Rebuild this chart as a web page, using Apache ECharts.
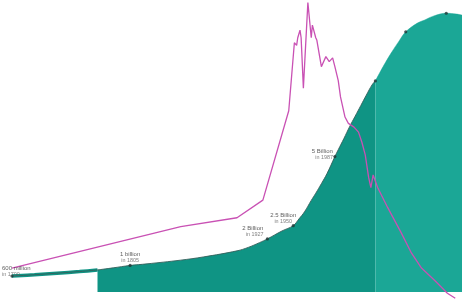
<!DOCTYPE html>
<html>
<head>
<meta charset="utf-8">
<script src="https://cdn.jsdelivr.net/npm/echarts@6/dist/echarts.min.js"></script>
<style>html,body{margin:0;padding:0;background:#fff}#c{width:462px;height:300px}</style>
</head>
<body>
<div id="c"></div>
<script>
// World population (billions), historical
const histYears = [1700, 1720, 1740, 1760, 1776, 1790, 1805, 1820, 1850, 1870, 1900, 1910, 1920, 1927, 1940, 1950, 1955, 1960, 1966, 1970, 1975, 1980, 1987, 1990, 1995, 2000, 2005, 2010, 2015, 2020, 2023];
const histPop   = [0.60, 0.65, 0.71, 0.77, 0.83, 0.91, 1.00, 1.06, 1.20, 1.32, 1.55, 1.68, 1.86, 2.00, 2.30, 2.50, 2.75, 3.02, 3.45, 3.72, 4.08, 4.46, 5.10, 5.36, 5.78, 6.22, 6.62, 7.02, 7.42, 7.80, 7.95];
// Projection (billions)
const projYears = [2023, 2030, 2037, 2044, 2050, 2060, 2067, 2075, 2086, 2095, 2100];
const projPop   = [7.95, 8.50, 9.00, 9.45, 9.80, 10.12, 10.25, 10.40, 10.50, 10.47, 10.43];
// Annual growth rate (%)
const growthYears = [1700, 1850, 1900, 1923, 1946, 1951, 1953, 1954, 1956, 1957, 1959, 1963, 1966, 1967, 1970, 1971, 1975, 1979, 1982, 1985, 1987, 1990, 1992, 1996, 1999, 2004, 2008, 2011, 2014, 2017, 2019, 2021, 2025, 2034, 2046, 2055, 2064, 2076, 2087, 2094];
const growthRate  = [0.19, 0.52, 0.59, 0.73, 1.44, 1.98, 1.96, 2.02, 2.08, 2.02, 1.62, 2.30, 2.02, 2.12, 2.02, 2.00, 1.79, 1.87, 1.83, 1.86, 1.79, 1.68, 1.55, 1.39, 1.34, 1.31, 1.27, 1.19, 1.09, 0.91, 0.83, 0.93, 0.83, 0.67, 0.47, 0.31, 0.19, 0.09, -0.01, -0.05];
// Milestones
const mileYears  = [1700, 1805, 1927, 1950, 1987, 2023, 2050, 2086];
const milePop    = [0.60, 1.00, 2.00, 2.50, 5.10, 7.95, 9.80, 10.50];
const mileTitle  = ['600 million', '1 billion', '2 Billion', '2.5 Billion', '5 Billion', '', '', ''];
const mileSub    = ['in 1700', 'in 1805', 'in 1927', 'in 1950', 'in 1987', '', '', ''];
const growthLabelYear = 2023;
const growthLabelValue = 0.88;
const growthLabelTitle = '0.9%';
const growthLabelSub = 'in 2023';

const zip = (xs, ys) => xs.map((x, i) => [x, ys[i]]);
const cut = 1776;
const bandData = zip(histYears, histPop).filter(d => d[0] <= cut);
const histArea = zip(histYears, histPop).filter(d => d[0] >= cut);

const DARK = '#0f9484';
const LIGHT = '#1ba796';
const PINK = '#c951b4';
const FONT = 'Liberation Sans, Arial, sans-serif';

// label placement styles per milestone
const labelStyles = [
  {align: 'left',   verticalAlign: 'bottom', offset: [-10, 1]},
  {align: 'center', verticalAlign: 'bottom', offset: [0, -2]},
  {align: 'right',  verticalAlign: 'bottom', offset: [-4, -1]},
  {align: 'center', verticalAlign: 'bottom', offset: [-10, -1]},
  {align: 'right',  verticalAlign: 'middle', offset: [-2, -2]},
  null, null, null
];

const rich = {
  a: {fontSize: 6, color: '#333', fontFamily: FONT, lineHeight: 6.3},
  b: {fontSize: 5.4, color: '#606060', fontFamily: FONT, lineHeight: 6}
};

const mileData = mileYears.map((y, i) => {
  const st = labelStyles[i];
  const item = {value: [y, milePop[i]]};
  if (st && mileTitle[i]) {
    item.label = Object.assign({show: true, position: 'inside', rich: rich,
      formatter: '{a|' + mileTitle[i] + '}\n{b|' + mileSub[i] + '}'}, st);
  } else {
    item.label = {show: false};
  }
  return item;
});

const chart = echarts.init(document.getElementById('c'), null, {renderer: 'canvas'});
chart.setOption({
  animation: false,
  backgroundColor: '#fff',
  grid: {left: 12, right: 0, top: 0, bottom: 8, containLabel: false},
  xAxis: {type: 'value', min: 1700, max: 2100, interval: 50, show: false},
  yAxis: [
    {type: 'value', min: 0, max: 11, show: false},
    {type: 'value', min: 0, max: 2.32, show: false}
  ],
  series: [
    {
      type: 'line', data: bandData, yAxisIndex: 0, symbol: 'none', smooth: 0.4,
      lineStyle: {color: DARK, width: 3.5}, z: 2
    },
    {
      type: 'line', data: bandData, yAxisIndex: 0, symbol: 'none', smooth: 0.4,
      lineStyle: {color: '#35605b', width: 0.9}, z: 3
    },
    {
      type: 'line', data: histArea, yAxisIndex: 0, symbol: 'none', smooth: 0.4,
      lineStyle: {color: '#35605b', width: 0.9},
      areaStyle: {color: DARK, opacity: 1}, z: 2
    },
    {
      type: 'line', data: zip(projYears, projPop), yAxisIndex: 0, symbol: 'none', smooth: 0.4,
      lineStyle: {color: LIGHT, width: 0.5},
      areaStyle: {color: LIGHT, opacity: 1}, z: 2
    },
    {
      type: 'line', data: zip(growthYears, growthRate), yAxisIndex: 1, symbol: 'none',
      clip: false, lineStyle: {color: PINK, width: 1.3}, z: 4
    },
    {
      type: 'scatter', data: mileData, yAxisIndex: 0, symbol: 'circle', symbolSize: 3.2,
      itemStyle: {color: '#1f3434'}, z: 5
    },
    {
      type: 'scatter', yAxisIndex: 1, symbolSize: 1, itemStyle: {opacity: 0}, z: 6,
      data: [{
        value: [growthLabelYear, growthLabelValue],
        label: {
          show: true, position: 'inside', align: 'left', verticalAlign: 'bottom', offset: [0, -16],
          formatter: '{a|' + growthLabelTitle + '}\n{b|' + growthLabelSub + '}',
          rich: {
            a: {fontSize: 6, color: '#8a62a8', fontFamily: FONT, lineHeight: 6.3},
            b: {fontSize: 5.4, color: '#8a62a8', fontFamily: FONT, lineHeight: 6}
          }
        }
      }]
    }
  ]
});
</script>
</body>
</html>
